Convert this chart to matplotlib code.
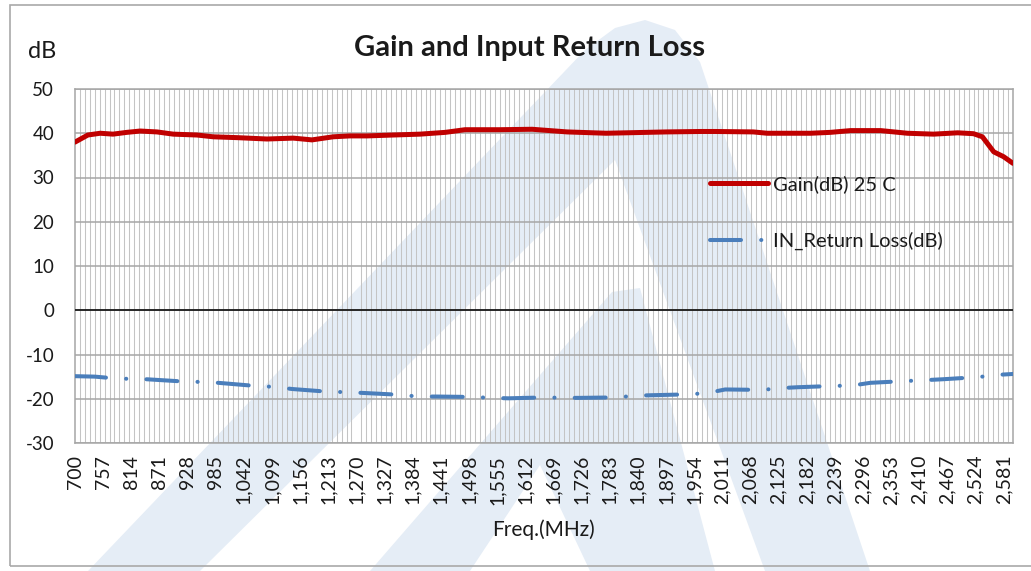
import matplotlib.pyplot as plt
from matplotlib.patches import Polygon, Rectangle
from matplotlib.ticker import MultipleLocator, FixedLocator

plt.rcParams['font.family'] = ['Lato', 'DejaVu Sans']
plt.rcParams['axes.unicode_minus'] = False

# gain (MHz, dB)
gain_freq = [700, 726, 751, 777, 805, 832, 866, 899, 947, 980, 1030, 1089, 1142,
             1180, 1223, 1257, 1292, 1344, 1399, 1450, 1490, 1560, 1626, 1697,
             1776, 1898, 1967, 1997, 2074, 2102, 2190, 2230, 2271, 2332, 2386,
             2439, 2488, 2520, 2538, 2561, 2581, 2600]
gain_db = [38.0, 39.6, 40.0, 39.8, 40.2, 40.5, 40.3, 39.8, 39.6, 39.2, 39.0, 38.7, 38.9,
           38.5, 39.2, 39.4, 39.4, 39.6, 39.8, 40.2, 40.8, 40.8, 40.9, 40.3,
           40.0, 40.3, 40.4, 40.4, 40.3, 40.0, 40.0, 40.2, 40.6, 40.6, 40.0,
           39.8, 40.1, 39.9, 39.2, 35.8, 34.7, 33.2]

# input return loss
rl_freq = [700, 740, 771, 807, 846, 919, 955, 990, 1065, 1101, 1140, 1211, 1247,
           1286, 1357, 1395, 1432, 1507, 1541, 1578, 1653, 1689, 1723, 1798,
           1835, 1869, 1944, 1981, 2017, 2092, 2129, 2163, 2238, 2275, 2311,
           2382, 2421, 2457, 2530, 2569, 2600]
rl_db = [-14.9, -15.0, -15.3, -15.5, -15.6, -16.1, -16.2, -16.4, -17.1, -17.3, -17.8, -18.4, -18.5,
         -18.7, -19.1, -19.5, -19.5, -19.6, -19.8, -19.9, -19.7, -19.8, -19.8, -19.7,
         -19.3, -19.2, -19.0, -18.7, -17.9, -18.0, -17.6, -17.4, -17.1, -17.0, -16.4,
         -16.0, -15.8, -15.6, -15.1, -14.6, -14.4]

x_labels = [700, 757, 814, 871, 928, 985, 1042, 1099, 1156, 1213, 1270, 1327,
            1384, 1441, 1498, 1555, 1612, 1669, 1726, 1783, 1840, 1897, 1954,
            2011, 2068, 2125, 2182, 2239, 2296, 2353, 2410, 2467, 2524, 2581]

W, H = 1031, 571


def px(x, y):
    # pixel position (top-left origin) -> figure fraction
    return (x / W, 1 - y / H)


fig = plt.figure(figsize=(W / 100, H / 100), dpi=100)

# faint logo watermark behind the chart
wm_color = '#e5edf6'
watermark = [
    [(88, 571), (585, 50), (615, 28), (645, 20), (675, 30), (700, 62), (870, 571),
     (765, 571), (615, 160), (200, 571)],
    [(370, 571), (612, 292), (640, 288), (715, 571), (590, 571), (540, 465), (470, 571)],
]
for pts in watermark:
    fig.add_artist(Polygon([px(*p) for p in pts], closed=True, transform=fig.transFigure,
                           facecolor=wm_color, edgecolor='none', zorder=-2))

# chart border (right side runs off the picture)
x0, y0 = px(10, 566)
fig.add_artist(Rectangle((x0, y0), 1.2, px(0, 5)[1] - y0, transform=fig.transFigure,
                         fill=False, edgecolor='#a9a9a9', lw=1.2, zorder=-1))

l, b = px(75, 443)
ax = fig.add_axes([l, b, 938 / W, 354 / H])
ax.set_facecolor('none')

ax.plot(gain_freq, gain_db, color='#c00000', lw=3.6, solid_capstyle='round',
        solid_joinstyle='round', label='Gain(dB) 25 C', zorder=4)
ax.plot(rl_freq, rl_db, color='#4a7ebb', lw=2.9, linestyle=(0, (7.7, 5.0, 0.05, 5.0)),
        dash_capstyle='round', label='IN_Return Loss(dB)', zorder=4)
ax.axhline(0, color='#000000', lw=1.1, zorder=3)

ax.set_xlim(700, 2600)
ax.set_ylim(-30, 50)
ax.yaxis.set_major_locator(MultipleLocator(10))
ax.xaxis.set_major_locator(FixedLocator(x_labels))
ax.xaxis.set_minor_locator(MultipleLocator(10))
ax.set_xticklabels([f'{v:,}' for v in x_labels], rotation=90)
ax.grid(axis='y', which='major', color='#a6a6a6', lw=1.1, zorder=1)
ax.grid(axis='x', which='minor', color='#c4c4c4', lw=0.75, zorder=1)
ax.tick_params(which='both', length=0)
ax.tick_params(axis='x', labelsize=14, pad=8.5, labelcolor='#1a1a1a')
ax.tick_params(axis='y', labelsize=13.5, pad=15, labelcolor='#1a1a1a')
for s in ax.spines.values():
    s.set_color('#a6a6a6')
    s.set_linewidth(1.1)

ax.legend(loc='upper left', bbox_to_anchor=((710 - 75) / 938, (443 - 175) / 354),
          frameon=False, fontsize=14.5, handlelength=2.88, handletextpad=0.25,
          labelspacing=1.93, borderpad=0, borderaxespad=0, labelcolor='#1a1a1a')

fig.text(*px(530, 48), 'Gain and Input Return Loss', ha='center', va='center',
         fontsize=21, fontweight='bold', color='#1a1a1a')
fig.text(*px(42, 52), 'dB', ha='center', va='center', fontsize=17, color='#1a1a1a')
fig.text(*px(543, 530), 'Freq.(MHz)', ha='center', va='center', fontsize=15, color='#1a1a1a')

fig.savefig('out.png', dpi=100)
